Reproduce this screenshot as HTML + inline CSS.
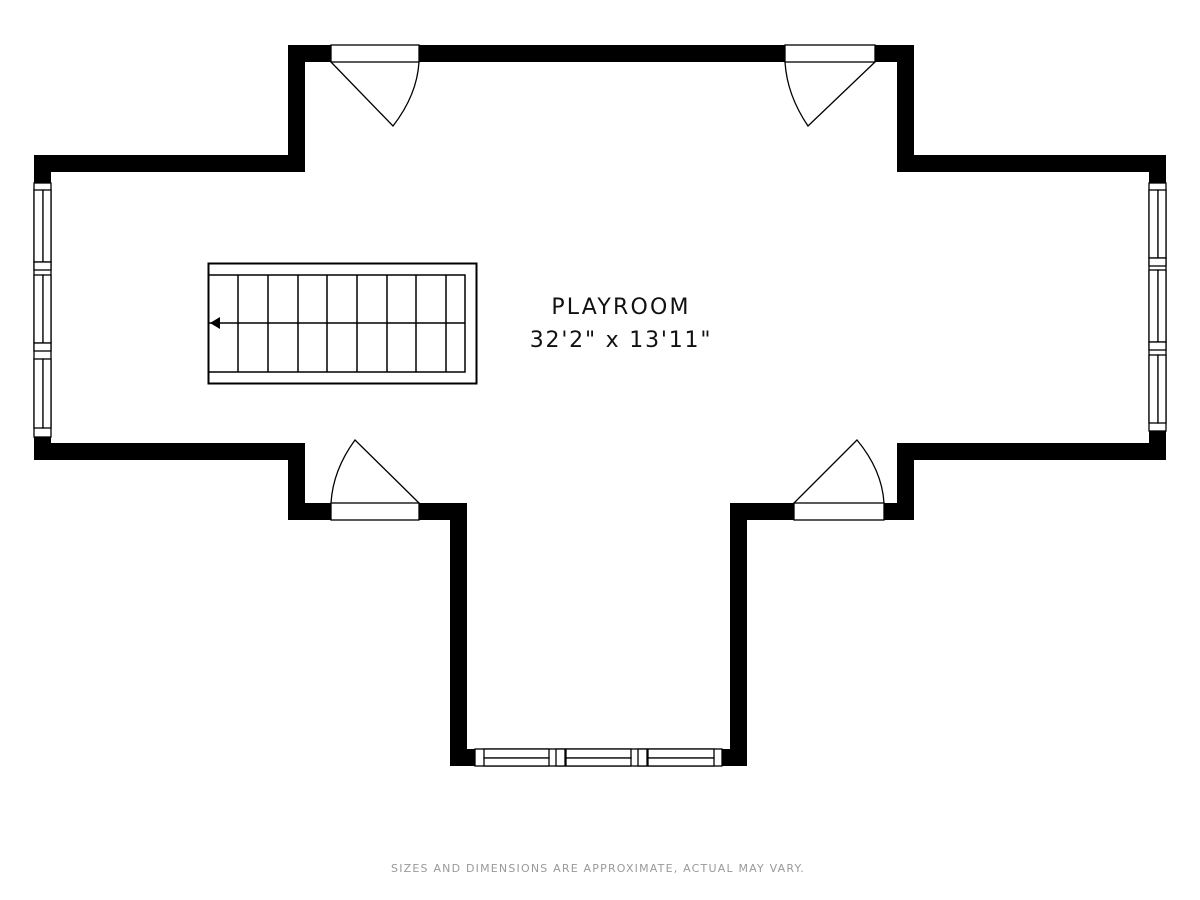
<!DOCTYPE html>
<html><head><style>body{margin:0;background:#fff}svg{display:block}</style></head><body>
<svg width="1200" height="900" viewBox="0 0 1200 900" xmlns="http://www.w3.org/2000/svg">
<rect width="1200" height="900" fill="#fff"/>
<path fill="#000" d="M288 45H914V155H1166V460H914V520H747V766H450V520H288V460H34V155H288Z"/>
<path fill="#fff" d="M305 62H897V172H1149V443H897V503H730V749H467V503H305V443H51V172H305Z"/>
<g fill="#fff" stroke="#000" stroke-width="1.3">
<rect x="331" y="45" width="88" height="17"/>
<rect x="785" y="45" width="90" height="17"/>
<rect x="331" y="503" width="88" height="17"/>
<rect x="794" y="503" width="90" height="17"/>
<rect x="34" y="183" width="17" height="254"/>
<rect x="34" y="190" width="9" height="72"/><rect x="43" y="190" width="8" height="72"/>
<rect x="34" y="262" width="17" height="8" />
<rect x="34" y="275" width="9" height="68"/><rect x="43" y="275" width="8" height="68"/>
<rect x="34" y="343" width="17" height="8"/>
<rect x="34" y="359" width="9" height="69"/><rect x="43" y="359" width="8" height="69"/>
<rect x="1149" y="183" width="17" height="248"/>
<rect x="1149" y="190" width="9" height="68"/><rect x="1158" y="190" width="8" height="68"/>
<rect x="1149" y="258" width="17" height="8"/>
<rect x="1149" y="270" width="9" height="72"/><rect x="1158" y="270" width="8" height="72"/>
<rect x="1149" y="342" width="17" height="8"/>
<rect x="1149" y="355" width="9" height="68"/><rect x="1158" y="355" width="8" height="68"/>
<rect x="475" y="749" width="247" height="17"/>
<rect x="484" y="749" width="65" height="9"/><rect x="484" y="758" width="65" height="8"/>
<rect x="556" y="749" width="9" height="17"/>
<rect x="566" y="749" width="65" height="9"/><rect x="566" y="758" width="65" height="8"/>
<rect x="638" y="749" width="9" height="17"/>
<rect x="648" y="749" width="66" height="9"/><rect x="648" y="758" width="66" height="8"/>
</g>
<g fill="none" stroke="#000" stroke-width="1.3">
<path d="M331 62L393 126Q417 95 419 62"/>
<path d="M875 62L808 126Q787 95 785 62"/>
<path d="M419 503L355 440Q333 470 331 503"/>
<path d="M794 503L857 440Q882 470 884 503"/>
<rect x="208.5" y="263.5" width="268" height="120" stroke-width="2"/>
<path d="M208 275H465V372H208M208 323H465" stroke-width="1.5"/>
<path d="M238 275V372M268 275V372M298 275V372M327 275V372M357 275V372M387 275V372M416 275V372M446 275V372" stroke-width="1.5"/>
</g>
<path d="M210 323L220 317V329Z" fill="#000"/>
<g font-family="DejaVu Sans, sans-serif" text-anchor="middle" fill="#111">
<text x="621" y="314" font-size="22" letter-spacing="2.2">PLAYROOM</text>
<text x="621" y="347" font-size="22" letter-spacing="1.8">32'2" x 13'11"</text>
<text x="598" y="872" font-size="11" letter-spacing="1.2" fill="#999">SIZES AND DIMENSIONS ARE APPROXIMATE, ACTUAL MAY VARY.</text>
</g>
</svg>
</body></html>
